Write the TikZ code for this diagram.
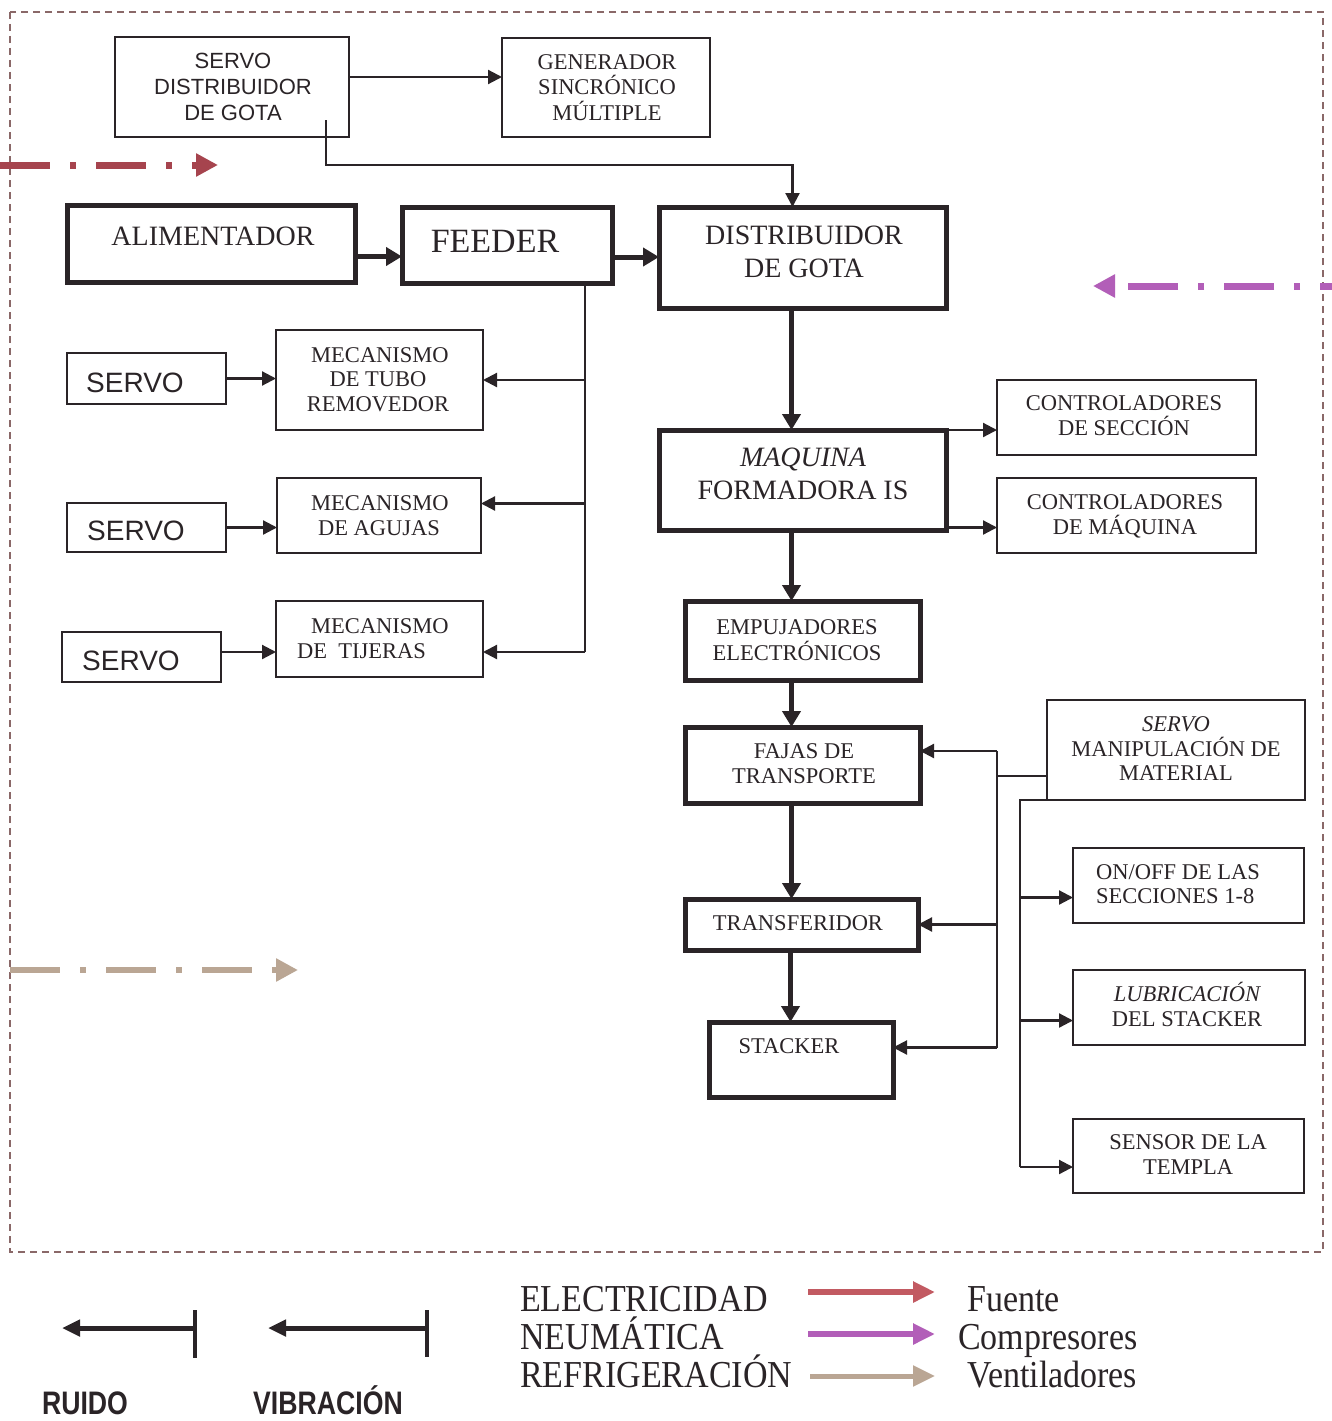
\documentclass[tikz,border=0pt]{standalone}
\usepackage{fontspec}
\setmainfont{Liberation Serif}
\setsansfont{Liberation Sans}
\usetikzlibrary{arrows.meta,calc}

\definecolor{ink}{HTML}{2A2427}
\definecolor{framec}{HTML}{8A6868}
\definecolor{elec}{HTML}{A6444E}
\definecolor{elecL}{HTML}{C25A62}
\definecolor{pneu}{HTML}{B25EB8}
\definecolor{cool}{HTML}{BAA694}

% one line of text, anchored on its baseline
\newcount\txtcount
\newcommand\txt[4]{\global\advance\txtcount by 1
  \node[#1] (txt\the\txtcount) at (#2,#3) {#4};}
% a box given by its top-left and bottom-right corners
\newcommand\blk[6]{\node[#2, anchor=north west,
  minimum width={#5-#3}, minimum height={#6-#4}] (#1) at (#3,#4) {};}
% tall legend lettering
\newcommand\tall[1]{\scalebox{1}[1.12]{#1}}
\newcommand\narrow[1]{\scalebox{0.86}[1.05]{#1}}

\tikzset{
  heavybox/.style={draw=ink, line width=5pt, inner sep=0pt, outer sep=0pt},
  lightbox/.style={draw=ink, line width=2.6pt, inner sep=0pt, outer sep=0pt},
  bigflow/.style={draw=ink, line width=5pt, -{Triangle[length=16pt,width=18pt]}},
  smallflow/.style={draw=ink, line width=2.2pt, -{Triangle[length=14pt,width=14pt]}},
  wire/.style={draw=ink, line width=2.2pt},
  energy/.style={line width=7pt, dash pattern=on 50pt off 20pt on 6pt off 20pt,
    -{Triangle[length=22pt,width=22pt]}},
  legarrow/.style={line width=6pt, -{Triangle[length=22pt,width=20pt]}},
  sv/.style={anchor=base, inner sep=0pt, text=ink, font=\sffamily\fontsize{22}{24}\selectfont},
  svbig/.style={anchor=base, inner sep=0pt, text=ink, font=\sffamily\fontsize{28}{30}\selectfont},
  rm/.style={anchor=base, inner sep=0pt, text=ink, font=\fontsize{22.5}{25}\selectfont},
  rmi/.style={anchor=base, inner sep=0pt, text=ink, font=\itshape\fontsize{22.5}{25}\selectfont},
  rmbig/.style={anchor=base, inner sep=0pt, text=ink, font=\fontsize{28}{30}\selectfont},
  rmbigi/.style={anchor=base, inner sep=0pt, text=ink, font=\itshape\fontsize{28}{30}\selectfont},
  leg/.style={anchor=base west, inner sep=0pt, text=ink, font=\fontsize{34}{36}\selectfont},
  legsf/.style={anchor=base, inner sep=0pt, text=ink, font=\sffamily\bfseries\fontsize{31}{33}\selectfont},
}

\begin{document}
\begin{tikzpicture}[x=1pt,y=-1pt]
\useasboundingbox (0,0) rectangle (1332,1421);
\fill[white] (0,0) rectangle (1332,1421);

% plant boundary
\draw[framec, line width=2pt, dash pattern=on 7pt off 5pt] (10,12) rectangle (1323,1252);

% ---------- boxes ----------
\blk{sdg}{lightbox}{115}{37}{349}{137}
\blk{gen}{lightbox}{502}{38}{710}{137}
\blk{alim}{heavybox}{67}{205}{355}{282}
\blk{feed}{heavybox}{402}{207}{612}{283}
\blk{dist}{heavybox}{659}{207}{946}{308}
\blk{sv1}{lightbox}{67}{353}{226}{404}
\blk{sv2}{lightbox}{67}{503}{226}{552}
\blk{sv3}{lightbox}{62}{632}{221}{682}
\blk{mechR}{lightbox}{276}{330}{483}{430}
\blk{mechA}{lightbox}{277}{478}{481}{553}
\blk{mechT}{lightbox}{276}{601}{483}{677}
\blk{maq}{heavybox}{659}{430}{946}{530}
\blk{ctrlS}{lightbox}{997}{380}{1256}{455}
\blk{ctrlM}{lightbox}{997}{478}{1256}{553}
\blk{emp}{heavybox}{685}{601}{920}{680}
\blk{fajas}{heavybox}{685}{727}{920}{803}
\blk{transf}{heavybox}{685}{899}{918}{950}
\blk{stack}{heavybox}{709}{1022}{893}{1097}
\blk{sman}{lightbox}{1047}{700}{1305}{800}
\blk{onoff}{lightbox}{1073}{848}{1304}{923}
\blk{lub}{lightbox}{1073}{970}{1305}{1045}
\blk{sens}{lightbox}{1073}{1119}{1304}{1193}

% ---------- texts ----------
\txt{sv}{233}{69}{SERVO}
\txt{sv}{233}{95}{DISTRIBUIDOR}
\txt{sv}{233}{120}{DE GOTA}
\txt{rm}{607}{70}{GENERADOR}
\txt{rm}{607}{95}{SINCRÓNICO}
\txt{rm}{607}{120}{MÚLTIPLE}
\txt{rmbig}{213}{245}{ALIMENTADOR}
\txt{rm,font=\fontsize{34}{36}\selectfont}{495}{252}{FEEDER}
\txt{rmbig}{804}{244}{DISTRIBUIDOR}
\txt{rmbig}{804}{277}{DE GOTA}
\txt{rmbigi}{803}{466}{MAQUINA}
\txt{rmbig}{803}{499}{FORMADORA IS}
\txt{rm}{1124}{410}{CONTROLADORES}
\txt{rm}{1124}{435}{DE SECCIÓN}
\txt{rm}{1125}{509}{CONTROLADORES}
\txt{rm}{1125}{534}{DE MÁQUINA}
\txt{svbig}{135}{392}{SERVO}
\txt{svbig}{136}{540}{SERVO}
\txt{svbig}{131}{670}{SERVO}
\txt{rm}{380}{362}{MECANISMO}
\txt{rm}{378}{386}{DE TUBO}
\txt{rm}{378}{411}{REMOVEDOR}
\txt{rm}{380}{510}{MECANISMO}
\txt{rm}{379}{535}{DE AGUJAS}
\txt{rm}{380}{633}{MECANISMO}
\txt{rm,anchor=base west}{297}{658}{DE\ \ TIJERAS}
\txt{rm}{797}{634}{EMPUJADORES}
\txt{rm}{797}{660}{ELECTRÓNICOS}
\txt{rm}{804}{758}{FAJAS DE}
\txt{rm}{804}{783}{TRANSPORTE}
\txt{rm}{798}{930}{TRANSFERIDOR}
\txt{rm}{789}{1053}{STACKER}
\txt{rmi}{1176}{731}{SERVO}
\txt{rm}{1176}{756}{MANIPULACIÓN DE}
\txt{rm}{1176}{780}{MATERIAL}
\txt{rm,anchor=base west}{1096}{879}{ON/OFF DE LAS}
\txt{rm,anchor=base west}{1096}{903}{SECCIONES 1-8}
\txt{rmi}{1187}{1001}{LUBRICACIÓN}
\txt{rm}{1187}{1026}{DEL STACKER}
\txt{rm}{1188}{1149}{SENSOR DE LA}
\txt{rm}{1188}{1174}{TEMPLA}

% ---------- connectors ----------
\draw[smallflow] ([yshift=10]sdg.east) -- ([yshift=10]sdg.east -| gen.west);
\draw[smallflow] ([xshift=-23,yshift=17]sdg.south east) -- ++(0,45) -| ([xshift=-10]dist.north);
\draw[bigflow] ([yshift=-13]alim.east) -- ([yshift=-13]alim.east -| feed.west);
\draw[bigflow] ([yshift=-12]feed.east) -- ([yshift=-12]feed.east -| dist.west);

% feeder bus to the mechanisms
\coordinate (fb) at ([xshift=78]feed.south);
\coordinate (mR) at (mechR.east);
\coordinate (mA) at ([yshift=12]mechA.east);
\coordinate (mT) at ([yshift=-13]mechT.east);
\draw[wire] (fb) -- (fb |- mT);
\draw[smallflow] (fb |- mR) -- (mR);
\draw[smallflow] (fb |- mA) -- (mA);
\draw[smallflow] (fb |- mT) -- (mT);

% servos
\draw[smallflow] (sv1.east) -- (sv1.east -| mechR.west);
\draw[smallflow] (sv2.east) -- (sv2.east -| mechA.west);
\draw[smallflow] ([yshift=5]sv3.east) -- ([yshift=5]sv3.east -| mechT.west);

% main production line
\draw[bigflow] ([xshift=-11]dist.south) -- ([xshift=-11]maq.north);
\draw[bigflow] ([xshift=-11]maq.south) -- ([xshift=-11]emp.north);
\draw[bigflow] ([xshift=-11]emp.south) -- ([xshift=-11]fajas.north);
\draw[bigflow] ([xshift=-11]fajas.south) -- ([xshift=-11]fajas.south |- transf.north);
\draw[bigflow] ([xshift=-11]transf.south) -- ([xshift=-11]transf.south |- stack.north);

% machine controllers
\draw[smallflow] (maq.north east) -- (maq.north east -| ctrlS.west);
\draw[smallflow] ([yshift=-12]ctrlM.west -| maq.east) -- ([yshift=-12]ctrlM.west);

% material handling servo bus
\coordinate (sb) at ([xshift=-50,yshift=-26]sman.west);
\coordinate (aF) at ([yshift=14]fajas.east);
\coordinate (aT) at (transf.east);
\coordinate (aS) at ([yshift=12]stack.east);
\draw[wire] ([yshift=-26]sman.west) -- (sb);
\draw[wire] (sb |- aF) -- (sb |- aS);
\draw[smallflow] (sb |- aF) -- (aF);
\draw[smallflow] (sb |- aT) -- (aT);
\draw[smallflow] (sb |- aS) -- (aS);

\coordinate (sb2) at ([xshift=-27]sman.south west);
\coordinate (aO) at ([yshift=-12]onoff.west);
\coordinate (aL) at ([yshift=-13]lub.west);
\coordinate (aN) at ([yshift=-11]sens.west);
\draw[wire] (sman.south west) -- (sb2) -- (sb2 |- aN);
\draw[smallflow] (sb2 |- aO) -- (aO);
\draw[smallflow] (sb2 |- aL) -- (aL);
\draw[smallflow] (sb2 |- aN) -- (aN);

% energy inputs
\coordinate (eIn) at (0,165);   \coordinate (eTip) at (218,165);
\coordinate (pIn) at (1332,286); \coordinate (pTip) at (1093,286);
\coordinate (cIn) at (10,970);  \coordinate (cTip) at (298,970);
\draw[energy, elec] (eIn) -- (eTip);
\draw[energy, pneu, dash phase=38pt] (pIn) -- (pTip);
\draw[energy, cool, line width=6pt] (cIn) -- (cTip);

% ---------- legend ----------
\coordinate (rBar) at (195,1328); \coordinate (rTip) at (62,1328);
\coordinate (vBar) at (427,1328); \coordinate (vTip) at (268,1328);
\draw[ink, line width=5pt, -{Triangle[length=18pt,width=16pt]}] (rBar) -- (rTip);
\draw[ink, line width=4pt] ([yshift=18]rBar) -- ([yshift=-30]rBar);
\draw[ink, line width=5pt, -{Triangle[length=18pt,width=16pt]}] (vBar) -- (vTip);
\draw[ink, line width=4pt] ([yshift=18]vBar) -- ([yshift=-29]vBar);
\txt{legsf}{85}{1414}{\narrow{RUIDO}}
\txt{legsf}{328}{1414}{\narrow{VIBRACIÓN}}

\txt{leg}{520}{1311}{\tall{ELECTRICIDAD}}
\txt{leg}{520}{1349}{\tall{NEUMÁTICA}}
\txt{leg}{520}{1387}{\tall{REFRIGERACIÓN}}
\coordinate (l1a) at (808,1292); \coordinate (l1b) at (935,1292);
\coordinate (l2a) at (808,1334); \coordinate (l2b) at (935,1334);
\coordinate (l3a) at (810,1376); \coordinate (l3b) at (935,1376);
\draw[legarrow, elecL] (l1a) -- (l1b);
\draw[legarrow, pneu] (l2a) -- (l2b);
\draw[legarrow, cool, line width=5pt] (l3a) -- (l3b);
\txt{leg}{967}{1311}{\tall{Fuente}}
\txt{leg}{958}{1349}{\tall{Compresores}}
\txt{leg}{967}{1387}{\tall{Ventiladores}}
\end{tikzpicture}
\end{document}
